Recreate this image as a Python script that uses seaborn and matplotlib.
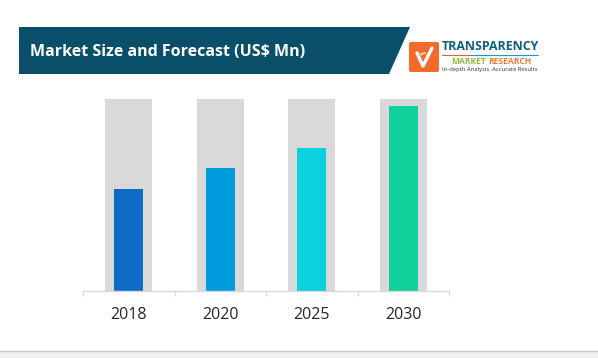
import matplotlib
matplotlib.use("Agg")
import matplotlib.pyplot as plt
import pandas as pd
import seaborn as sns
from matplotlib.patches import FancyBboxPatch, Polygon, Rectangle

# Data (no value axis, so on a 0-100 scale of the grey bar)
years = ["2018", "2020", "2025", "2030"]
values = [53.3, 63.9, 74.7, 96.4]
backdrop = [100, 100, 100, 100]
bar_colors = ["#0f6cc6", "#019cdc", "#09d2de", "#10d19b"]

W, H = 598, 358
sns.set_theme(style="white")
plt.rcParams["font.family"] = ["Open Sans", "DejaVu Sans"]

df = pd.DataFrame({"year": years, "value": values, "backdrop": backdrop})

fig = plt.figure(figsize=(W / 100, H / 100), dpi=100, facecolor="white")
ax = fig.add_axes([83 / W, 1 - 291 / H, 366 / W, 192 / H])

# Bars
sns.barplot(data=df, x="year", y="backdrop", color="#d9d9d9", width=0.51,
            saturation=1, linewidth=0, ax=ax)
sns.barplot(data=df, x="year", y="value", hue="year", palette=bar_colors, width=0.317,
            saturation=1, linewidth=0, legend=False, ax=ax)
ax.set_ylim(0, 100)
ax.set_xlim(-0.5, 3.5)
ax.set_xlabel("")
ax.set_ylabel("")
ax.set_yticks([])
ax.set_xticks(range(len(years)), years)
ax.tick_params(axis="x", length=0, pad=11.5, labelsize=11.5, labelcolor="#262626")
ax.set_xticks([-0.5, 0.5, 1.5, 2.5, 3.5], minor=True)
ax.tick_params(axis="x", which="minor", bottom=True, length=3.5, width=0.9, color="#d9d9d9")
sns.despine(ax=ax, left=True)
ax.spines["bottom"].set_color("#d9d9d9")
ax.spines["bottom"].set_linewidth(1)
ax.patch.set_alpha(0)

# Overlay in pixel coordinates for the banner, logo and bottom strip
top = fig.add_axes([0, 0, 1, 1], facecolor="none")
top.set_xlim(0, W)
top.set_ylim(H, 0)
top.axis("off")

top.add_patch(Polygon([(19, 27), (410, 27), (389, 74), (19, 74)], closed=True,
                      facecolor="#0a4f69", edgecolor="none"))
top.text(30, 51.5, "Market Size and Forecast (US$ Mn)", color="white", fontsize=11.5,
         fontweight="bold", va="center", ha="left")

top.add_patch(FancyBboxPatch((410.5, 43.5), 27, 27, boxstyle="round,pad=1.5,rounding_size=2",
                             facecolor="#f26b2b", edgecolor="none"))
top.plot([417, 423, 432], [53, 66, 48], color="white", lw=2.4, solid_capstyle="round")
top.plot([419, 425], [55, 53], color="#f8c9ad", lw=1.6)

top.text(442, 46.5, "TRANSPARENCY", color="#0d5f80", fontsize=8.9, fontweight="bold",
         va="center", ha="left")
top.plot([442, 471], [55, 55], color="#c96a3a", lw=0.8)
top.plot([471, 538], [55, 55], color="#1c9ac4", lw=0.8)
top.text(451, 62, "MARKET", color="#8dbb3c", fontsize=6.1, fontweight="bold", va="center", ha="left")
top.text(488.5, 62, "RESEARCH", color="#e8803a", fontsize=6.1, fontweight="bold", va="center", ha="left")
top.text(442, 69.5, "In-depth Analysis. Accurate Results", color="#333333", fontsize=4.25,
         va="center", ha="left")

top.add_patch(Rectangle((0, 351), W, 7, facecolor="#f0f0f0", edgecolor="none"))
top.plot([0, W], [351, 351], color="#c8c8c8", lw=1)

fig.savefig("out.png", dpi=100)
